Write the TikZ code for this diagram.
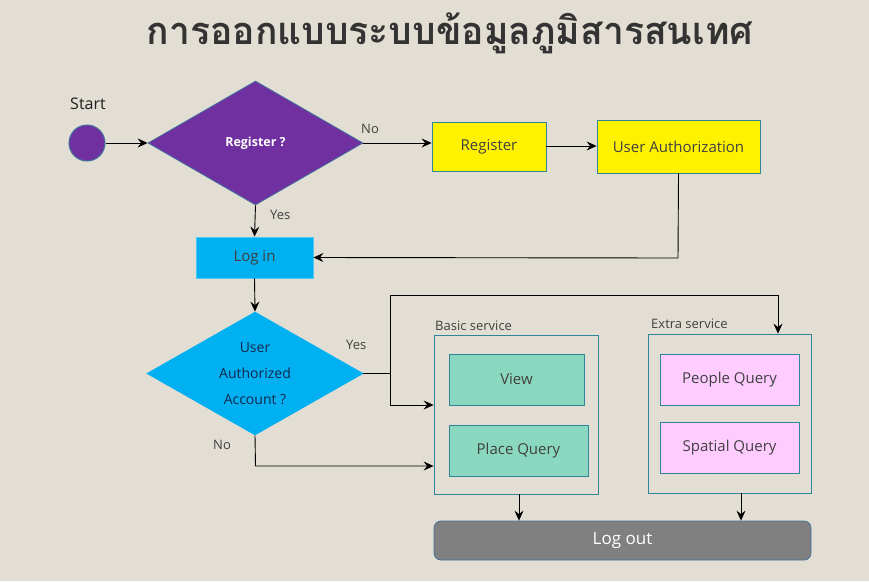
\documentclass[tikz,border=0pt]{standalone}
\usepackage{fontspec}
\setmainfont{Open Sans}
\newfontfamily\thaifont[Script=Thai]{Loma}
\usetikzlibrary{shapes.geometric,arrows.meta}
\definecolor{bg}{RGB}{227,222,212}
\definecolor{purp}{RGB}{112,48,160}
\definecolor{bord}{RGB}{49,133,155}
\definecolor{pbord}{RGB}{65,113,156}
\definecolor{cyanf}{RGB}{0,176,240}
\definecolor{greenf}{RGB}{139,216,192}
\definecolor{pinkf}{RGB}{255,204,255}
\definecolor{txt}{RGB}{64,64,64}
\definecolor{navy}{RGB}{20,40,80}
\definecolor{grayf}{RGB}{128,128,128}
\begin{document}
\begin{tikzpicture}[x=1pt,y=-1pt,
  arr/.style={-{Stealth[length=10pt,width=9pt,inset=3.5pt]},line width=0.9pt,black},
  ln/.style={line width=0.9pt,black},
  boxn/.style={draw=bord,line width=0.8pt,rectangle,inner sep=0pt,text=txt,font=\fontsize{15}{18}\selectfont},
  lbl/.style={text=txt,font=\fontsize{13}{15}\selectfont,inner sep=0pt},
  grp/.style={draw=bord,line width=0.8pt,rectangle,inner sep=0pt}]
\fill[bg] (0,0) rectangle (869,581);
\useasboundingbox (0,0) rectangle (869,581);
\node[text={rgb,255:red,51;green,51;blue,51},font=\thaifont\bfseries\fontsize{38}{44}\selectfont,inner sep=0pt,xscale=0.98] (title) at (450,33) {การออกแบบระบบข้อมูลภูมิสารสนเทศ};
\node[text={rgb,255:red,30;green,30;blue,30},font=\fontsize{16}{18}\selectfont,inner sep=0pt] (starttxt) at (88,104) {Start};
\node[circle,fill=purp,draw=pbord,line width=1pt,minimum size=36pt,inner sep=0pt] (start) at (87,143) {};
\node[diamond,fill=purp,draw=pbord,line width=0.8pt,minimum width=215pt,minimum height=124pt,inner sep=0pt,text=white,font=\fontsize{12.5}{14}\selectfont\bfseries] (reg?) at (255.5,143) {Register ?};
\node[boxn,fill=yellow,minimum width=114pt,minimum height=49pt] (reg) at (489,146.5) {Register};
\node[boxn,fill=yellow,minimum width=163pt,minimum height=53pt] (ua) at (678.5,146.5) {User Authorization};
\node[boxn,fill=cyanf,draw=cyanf!70!white,minimum width=117pt,minimum height=41pt] (login) at (254.5,257.5) {Log in};
\node[diamond,fill=cyanf,draw=cyanf,line width=0.8pt,minimum width=216pt,minimum height=123pt,inner sep=0pt] (acc?) at (255,373.5) {};
\node[text=navy,font=\fontsize{14}{26}\selectfont,align=center,inner sep=0pt] (acctxt) at (acc?.center) {User\\Authorized\\Account ?};
\node[grp,minimum width=164pt,minimum height=159pt] (basic) at (516,414.5) {};
\node[lbl,anchor=base west] (basictxt) at (435,330) {Basic service};
\node[boxn,fill=greenf,minimum width=135pt,minimum height=51pt] (view) at (516.5,379.5) {View};
\node[boxn,fill=greenf,minimum width=139pt,minimum height=51pt] (place) at (518.5,450.5) {Place Query};
\node[grp,minimum width=163pt,minimum height=159pt] (extra) at (729.5,413.5) {};
\node[lbl,anchor=base west] (extratxt) at (651,328) {Extra service};
\node[boxn,fill=pinkf,minimum width=139pt,minimum height=51pt] (people) at (729.5,379.5) {People Query};
\node[boxn,fill=pinkf,minimum width=139pt,minimum height=51pt] (spatial) at (729.5,447.5) {Spatial Query};
\node[rectangle,rounded corners=7pt,fill=grayf,draw=pbord,line width=0.8pt,minimum width=377pt,minimum height=39pt,text=white,font=\fontsize{17}{19}\selectfont] (logout) at (622.5,540.5) {Log out};
% connectors
\draw[arr] (start) -- (reg?.west);
\draw[arr] (reg?.east) -- (reg.west |- reg?.east);
\node[lbl,anchor=base west] (no1) at (361,133) {No};
\draw[arr] (reg.east |- 0,146) -- (ua.west |- 0,146);
\coordinate (c1) at (678,258);
\draw[arr] (ua.south) -- (c1) -- (login.east);
\draw[arr] (reg?.south) -- (login.north);
\node[lbl,anchor=base west] (yes1) at (270,219) {Yes};
\draw[arr] (login.south) -- (acc?.north);
\coordinate (c2) at (390,373.5);
\coordinate (c3) at (390,295);
\coordinate (c4) at (778,295);
\draw[ln] (acc?.east) -- (c2);
\draw[arr] (c2) -- (c3) -- (c4) -- (extra.north -| c4);
\draw[arr] (c2) -- (390,405) -- (basic.west |- 0,405);
\node[lbl,anchor=base west] (yes2) at (346,349) {Yes};
\coordinate (c5) at (255.5,466);
\draw[arr] (acc?.south) -- (c5) -- (basic.west |- c5);
\node[lbl,anchor=base west] (no2) at (213,449) {No};
\draw[arr] (basic.south -| 519,0) -- (logout.north -| 519,0);
\draw[arr] (extra.south -| 741,0) -- (logout.north -| 741,0);
\end{tikzpicture}
\end{document}
